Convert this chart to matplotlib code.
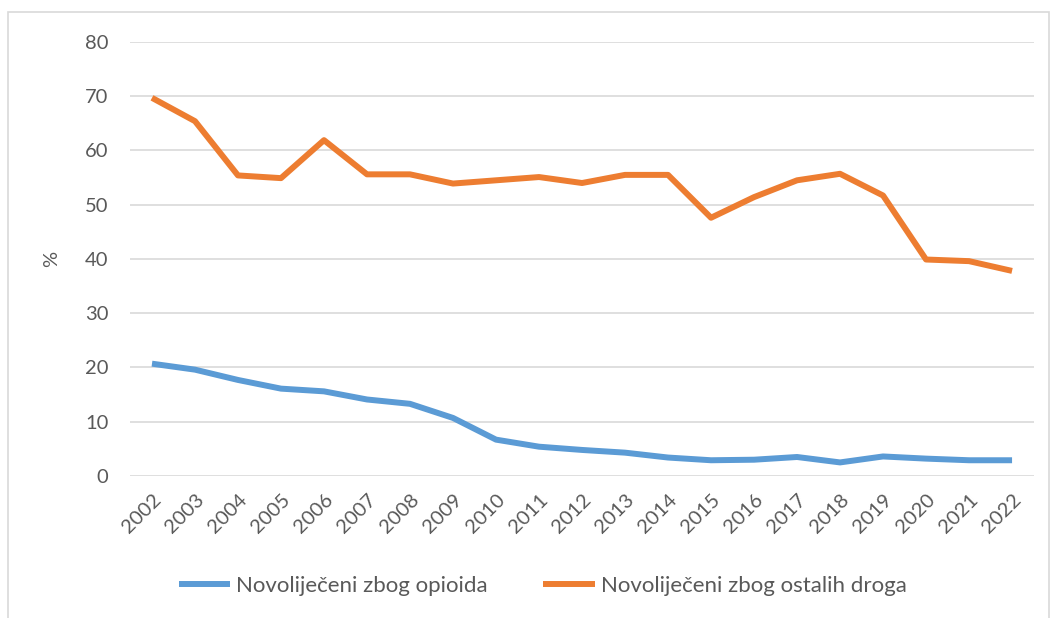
import matplotlib.pyplot as plt
from matplotlib.patches import Rectangle

years = [str(y) for y in range(2002, 2023)]
opioidi = [20.7, 19.6, 17.7, 16.1, 15.6, 14.1, 13.3, 10.7, 6.7, 5.4, 4.8,
           4.3, 3.4, 2.9, 3.0, 3.5, 2.5, 3.6, 3.2, 2.9, 2.9]
ostale = [69.7, 65.4, 55.4, 54.9, 61.9, 55.6, 55.6, 53.9, 54.5, 55.1, 54.0,
          55.5, 55.5, 47.6, 51.4, 54.5, 55.7, 51.7, 39.9, 39.6, 37.8]
yticks = [0, 10, 20, 30, 40, 50, 60, 70, 80]

plt.rcParams['font.family'] = ['Lato', 'DejaVu Sans']
text_col = '#595959'

fig = plt.figure(figsize=(10.54, 6.18), dpi=100)
# light outer frame (open at the bottom, like the source image)
fig.patches.append(Rectangle((7.7 / 1054, -0.05), 1041 / 1054, 1.05 - 11.7 / 618,
                             transform=fig.transFigure, fill=False,
                             edgecolor='#d9d9d9', linewidth=1.2))
ax = fig.add_axes([0.1238, 0.2298, 0.8568, 0.7023])

x = list(range(len(years)))
ax.plot(x, opioidi, color='#5B9BD5', linewidth=4.3, solid_capstyle='butt',
        label='Novoliječeni zbog opioida')
ax.plot(x, ostale, color='#ED7D31', linewidth=4.3, solid_capstyle='butt',
        label='Novoliječeni zbog ostalih droga')

ax.set_xlim(-0.5, len(years) - 0.5)
ax.set_ylim(0, 80)
ax.set_yticks(yticks)
ax.set_xticks(x)
ax.set_xticklabels(years, rotation=45, ha='right', rotation_mode='anchor')
ax.tick_params(axis='both', length=0, labelsize=14.5, colors=text_col)
ax.tick_params(axis='y', pad=16)
ax.tick_params(axis='x', pad=11)
ax.grid(axis='y', color='#d9d9d9', linewidth=1.2)
ax.set_axisbelow(True)
for s in ax.spines.values():
    s.set_visible(False)
ax.set_ylabel('%', fontsize=14.5, color=text_col, labelpad=18)

fig.legend(loc='center', bbox_to_anchor=(0.515, 0.052), ncol=2, frameon=False,
           fontsize=16, labelcolor=text_col, handlelength=2.3,
           handletextpad=0.3, columnspacing=2.5)

fig.savefig('out.png', dpi=100)
